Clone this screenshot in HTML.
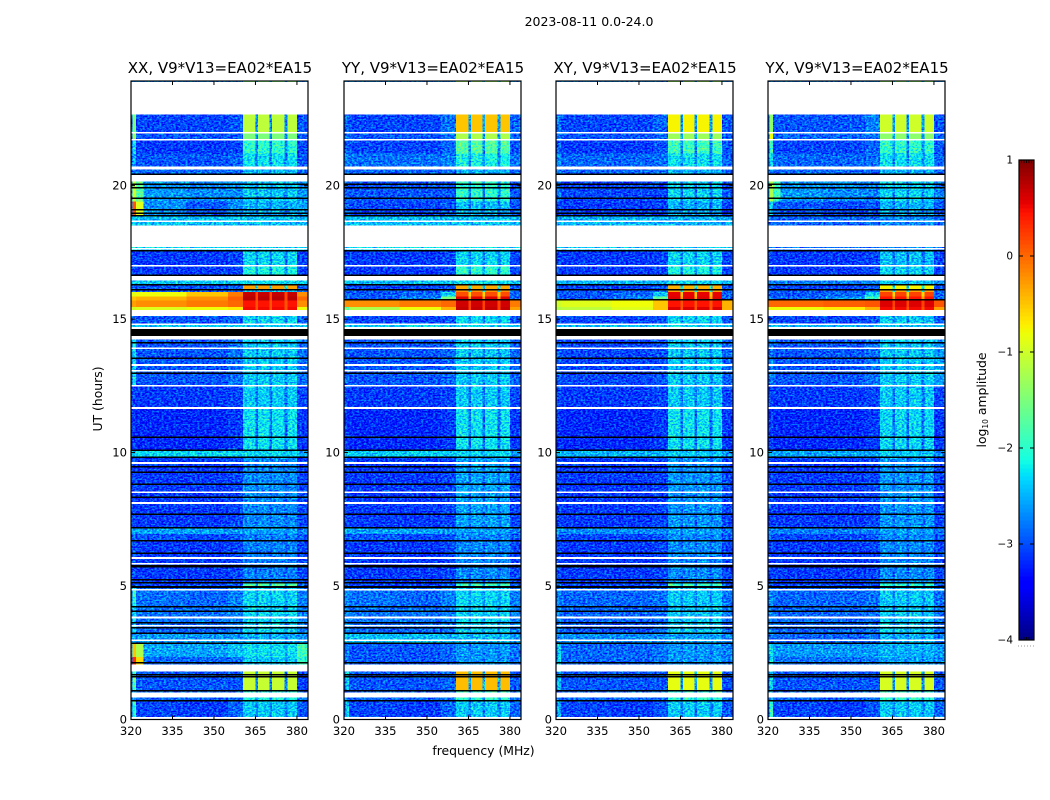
<!DOCTYPE html>
<html><head><meta charset="utf-8"><title>Dynamic spectrum</title>
<style>
html,body{margin:0;padding:0;background:#fff;width:1050px;height:800px;overflow:hidden}
svg{display:block}
text{font-family:"DejaVu Sans","Liberation Sans",sans-serif;fill:#000}
</style></head>
<body>
<svg id="fig" xmlns="http://www.w3.org/2000/svg" width="1050" height="800" viewBox="0 0 1050 800">
<defs>
<filter id="speckle" filterUnits="userSpaceOnUse" x="0" y="0" width="1050" height="800" color-interpolation-filters="sRGB">
<feTurbulence type="fractalNoise" baseFrequency="0.42 0.62" numOctaves="2" seed="4" result="n"/>
<feColorMatrix in="n" type="matrix" values="2 0 0 0 -0.5  2 0 0 0 -0.5  2 0 0 0 -0.5  0 0 0 0 1" result="g"/>
<feComposite in="SourceGraphic" in2="g" operator="arithmetic" k1="0" k2="1" k3="0.2" k4="-0.1" result="m"/>
<feComposite in="m" in2="SourceGraphic" operator="in" result="c"/>
<feComponentTransfer in="c">
<feFuncR id="tableR" type="table" tableValues="0 1"/>
<feFuncG id="tableG" type="table" tableValues="0 1"/>
<feFuncB id="tableB" type="table" tableValues="0 1"/>
</feComponentTransfer>
</filter>
</defs>
<text x="589" y="26" font-size="12.5" text-anchor="middle">2023-08-11 0.0-24.0</text>
<text x="0" y="0" font-size="12.4" text-anchor="middle" transform="translate(102,399) rotate(-90)">UT (hours)</text>
<text x="483.5" y="755" font-size="12.4" text-anchor="middle">frequency (MHz)</text>
<text x="0" y="0" font-size="12.4" text-anchor="middle" transform="translate(986,400) rotate(-90)">log<tspan font-size="7.5" dy="2">10</tspan><tspan dy="-2"> amplitude</tspan></text>
<g id="panels"></g>
<g id="cbar"></g>
</svg>
<script>
// axis tick labels
const xTickValues = [320, 335, 350, 365, 380];
const yTickValues = [0, 5, 10, 15, 20];
const colorbarTicks = [1, 0, -1, -2, -3, -4];
const panelTitles = ["XX, V9*V13=EA02*EA15", "YY, V9*V13=EA02*EA15", "XY, V9*V13=EA02*EA15", "YX, V9*V13=EA02*EA15"];

// frequency zones (MHz): pad, edge, near, bgA, bgB, mid, band1, gap, band2, gap, band3, gap, band4, right
const zoneEdges = [320, 320.6, 321.8, 324.5, 340, 355, 360.5, 365, 366, 370, 371, 375.5, 376.5, 380, 384];
const zoneKinds = [1, 0, 7, 1, 2, 3, 4, 5, 4, 5, 4, 5, 4, 6];

// UT rows (hours)
const timeRows = [[0.09,0.71],[0.71,1.09],[1.09,1.80],[2.06,2.35],[2.35,2.85],[2.85,3.23],[3.23,3.62],[3.62,4.25],[4.25,5.0],[5.0,5.12],[5.12,6.72],[6.72,6.94],[6.94,7.17],[7.17,9.81],[9.81,10.05],[10.05,11.67],[11.67,12.5],[12.5,14.37],[14.62,14.84],[14.84,15.12],[15.35,15.46],[15.46,15.70],[15.70,15.85],[15.85,16.02],[16.02,16.12],[16.12,16.29],[16.29,16.44],[16.63,17.0],[17.0,17.54],[17.54,17.71],[18.5,18.87],[18.87,19.4],[19.4,20.15],[20.39,20.6],[20.72,21.2],[21.2,21.72],[21.72,22.0],[22.0,22.66],[23.88,23.92]];

// log10 amplitude per row: edge, bgA, bgB, mid, band, gap, right, optional near-edge zone
const xxLevels = [
[-1.8,-3.2,-3.3,-3.0,-2.2,-2.8,-3.1],[-2.6,-3.0,-3.0,-2.9,-1.9,-2.7,-2.9],[-1.6,-3.1,-3.1,-3.1,-1.05,-2.8,-3.2],[0.3,-3.0,-3.0,-2.9,-2.2,-2.6,-1.8,-0.6],[-0.5,-2.5,-2.5,-2.3,-2.0,-2.4,-1.7,-1.2],
[-2.6,-2.6,-2.6,-2.6,-2.4,-2.7,-2.7],[-2.0,-3.0,-3.0,-2.8,-2.1,-2.7,-2.8],[-2.0,-2.9,-2.9,-2.8,-2.1,-2.6,-2.8],[-1.8,-2.9,-3.0,-2.8,-2.1,-2.6,-2.8],
[-3.0,-3.2,-3.2,-3.1,-1.6,-2.7,-3.0],[-3.1,-3.3,-3.3,-3.2,-2.8,-3.0,-3.2],[-3.0,-3.1,-3.2,-3.1,-2.8,-3.0,-3.1],[-2.5,-2.5,-2.5,-2.6,-2.5,-2.7,-2.8],
[-3.2,-3.3,-3.3,-3.2,-2.7,-2.95,-3.2],[-2.1,-2.1,-2.1,-2.1,-2.1,-2.2,-2.5],[-3.3,-3.4,-3.4,-3.3,-2.0,-2.9,-3.3],[-3.2,-3.3,-3.3,-3.2,-2.2,-2.9,-3.2],
[-2.0,-3.1,-3.1,-2.9,-2.2,-2.7,-2.9],[-2.2,-2.2,-2.2,-2.2,-2.2,-2.2,-2.2],[-3.0,-3.1,-3.1,-3.0,-2.1,-2.7,-3.0],[-1.0,-0.9,-0.8,-0.7,0.5,0.1,-0.8],
[-0.3,-0.2,-0.1,0.0,0.45,0.1,-0.2],[-0.5,-0.4,-0.2,0.05,0.75,0.2,0.0],[-0.9,-0.8,-0.5,-0.1,0.7,0.2,-0.2],[-3.0,-3.1,-3.1,-3.0,-2.2,-2.7,-3.0],[-3.0,-3.1,-3.1,-3.0,-0.3,-2.0,-3.0],
[-2.2,-2.2,-2.2,-2.2,-2.0,-2.2,-2.2],[-3.2,-3.3,-3.3,-3.2,-1.9,-2.7,-3.2],[-3.2,-3.3,-3.3,-3.2,-2.1,-2.8,-3.2],[-2.1,-2.1,-2.1,-2.1,-2.1,-2.1,-2.1],
[-2.3,-2.3,-2.3,-2.3,-2.3,-2.3,-2.4],[0.1,-2.7,-3.1,-2.7,-2.4,-2.8,-2.5,-0.9],[-1.0,-2.6,-2.7,-2.7,-2.2,-2.7,-2.6,-1.6],[-2.8,-3.0,-3.0,-3.0,-2.3,-2.8,-3.0],
[-2.4,-3.1,-3.1,-3.0,-2.0,-2.8,-3.1],[-2.0,-3.3,-3.3,-3.2,-1.8,-2.8,-3.2],[-1.3,-3.1,-3.1,-3.1,-1.5,-2.7,-3.1],[-1.5,-3.2,-3.2,-3.1,-1.1,-2.7,-3.1],[-2.7,-2.7,-2.7,-2.7,-1.5,-2.5,-2.7]];
const yyLevels = [
[-2.2,-3.2,-3.3,-3.0,-2.2,-2.8,-3.0],[-2.8,-3.0,-3.0,-2.9,-1.8,-2.7,-2.9],[-2.2,-3.1,-3.1,-3.0,-0.45,-2.5,-3.1],[-2.8,-3.1,-3.1,-3.0,-2.6,-2.9,-2.9],[-2.8,-3.1,-3.1,-3.0,-2.6,-2.9,-2.9],
[-2.3,-2.3,-2.3,-2.4,-2.3,-2.6,-2.6],[-2.7,-3.0,-3.0,-2.9,-2.1,-2.7,-2.8],[-2.7,-2.9,-2.9,-2.8,-2.1,-2.6,-2.8],[-2.7,-2.9,-3.0,-2.8,-2.1,-2.6,-2.8],
[-3.0,-3.2,-3.2,-3.1,-1.7,-2.7,-3.0],[-3.2,-3.3,-3.3,-3.2,-2.7,-3.0,-3.2],[-3.0,-3.1,-3.2,-3.1,-2.7,-3.0,-3.1],[-2.5,-2.5,-2.5,-2.6,-2.5,-2.7,-2.8],
[-3.2,-3.3,-3.3,-3.2,-2.5,-2.9,-3.2],[-2.2,-2.2,-2.2,-2.2,-2.1,-2.3,-2.5],[-3.3,-3.4,-3.4,-3.3,-2.0,-2.9,-3.3],[-3.2,-3.3,-3.3,-3.2,-2.2,-2.9,-3.2],
[-3.0,-3.1,-3.1,-3.0,-2.2,-2.7,-3.0],[-2.2,-2.2,-2.2,-2.2,-2.1,-2.2,-2.2],[-3.1,-3.2,-3.2,-3.1,-2.1,-2.7,-3.1],[-1.6,-1.2,-0.8,-0.4,0.7,0.2,-0.3],
[-0.2,-0.2,-0.1,0.0,0.65,0.2,-0.1],[-3.0,-3.1,-2.8,-1.5,0.6,-0.3,-3.0],[-3.0,-3.1,-3.0,-2.2,0.15,-0.6,-3.0],[-3.0,-3.1,-3.1,-3.0,-0.2,-2.0,-3.0],[-3.1,-3.2,-3.2,-3.1,-0.35,-2.0,-3.1],
[-2.3,-2.3,-2.3,-2.3,-2.0,-2.3,-2.3],[-3.2,-3.3,-3.3,-3.2,-1.8,-2.7,-3.2],[-3.2,-3.3,-3.3,-3.2,-2.1,-2.8,-3.2],[-2.1,-2.1,-2.1,-2.1,-2.0,-2.1,-2.1],
[-2.3,-2.3,-2.3,-2.3,-2.3,-2.3,-2.4],[-3.0,-3.2,-3.2,-3.1,-2.3,-2.9,-3.1],[-3.0,-3.1,-3.1,-3.1,-1.8,-2.8,-3.1],[-2.9,-3.0,-3.0,-3.0,-2.4,-2.8,-3.0],
[-2.7,-2.9,-2.9,-2.8,-1.9,-2.7,-2.9],[-3.0,-3.2,-3.2,-3.0,-1.6,-2.7,-3.1],[-2.9,-3.1,-3.1,-2.9,-1.2,-2.6,-3.0],[-2.9,-3.2,-3.2,-2.9,-0.5,-2.6,-3.0],[-2.7,-2.7,-2.7,-2.7,-1.3,-2.5,-2.7]];
const xyLevels = [
[-2.4,-3.2,-3.3,-3.1,-2.2,-2.8,-3.1],[-2.9,-3.0,-3.0,-2.9,-1.8,-2.7,-2.9],[-2.3,-3.1,-3.1,-3.1,-0.85,-2.6,-3.1],[-2.1,-3.0,-3.0,-2.9,-2.6,-2.9,-2.8],[-2.1,-3.0,-3.0,-2.9,-2.6,-2.9,-2.8],
[-2.7,-2.7,-2.7,-2.7,-2.5,-2.7,-2.7],[-2.7,-3.1,-3.1,-2.9,-2.1,-2.7,-2.9],[-2.7,-3.0,-3.0,-2.9,-2.2,-2.7,-2.9],[-2.7,-3.0,-3.0,-2.9,-2.2,-2.7,-2.9],
[-3.0,-3.2,-3.2,-3.1,-1.7,-2.7,-3.0],[-3.2,-3.3,-3.3,-3.2,-2.7,-3.0,-3.2],[-3.0,-3.2,-3.2,-3.1,-2.7,-3.0,-3.1],[-2.7,-2.7,-2.7,-2.7,-2.5,-2.8,-2.9],
[-3.2,-3.3,-3.3,-3.2,-2.6,-2.95,-3.2],[-2.4,-2.4,-2.4,-2.4,-2.2,-2.4,-2.6],[-3.3,-3.4,-3.4,-3.3,-2.0,-2.9,-3.3],[-3.2,-3.3,-3.3,-3.2,-2.2,-2.9,-3.2],
[-3.0,-3.2,-3.2,-3.1,-2.2,-2.8,-3.0],[-2.3,-2.3,-2.3,-2.3,-2.2,-2.3,-2.3],[-3.1,-3.2,-3.2,-3.1,-2.1,-2.7,-3.1],[-1.2,-1.1,-0.9,-0.5,0.6,0.1,-0.4],
[-1.0,-0.9,-0.8,-0.5,0.45,0.1,-0.4],[-3.0,-3.1,-2.8,-1.6,0.6,-0.3,-3.0],[-3.0,-3.1,-3.0,-2.2,0.55,-0.5,-3.0],[-3.0,-3.1,-3.1,-3.0,-0.3,-2.0,-3.0],[-3.1,-3.2,-3.2,-3.1,-0.4,-2.0,-3.1],
[-2.4,-2.4,-2.4,-2.4,-2.1,-2.4,-2.4],[-3.2,-3.3,-3.3,-3.2,-1.9,-2.7,-3.2],[-3.2,-3.3,-3.3,-3.2,-2.1,-2.8,-3.2],[-2.3,-2.3,-2.3,-2.3,-2.2,-2.3,-2.3],
[-2.4,-2.4,-2.4,-2.4,-2.4,-2.4,-2.5],[-3.1,-3.3,-3.3,-3.2,-2.4,-3.0,-3.2],[-2.8,-3.2,-3.2,-3.2,-2.1,-2.9,-3.1],[-2.9,-3.0,-3.0,-3.0,-2.4,-2.8,-3.0],
[-2.7,-3.0,-3.0,-2.9,-2.0,-2.7,-3.0],[-3.0,-3.3,-3.3,-3.1,-1.7,-2.8,-3.1],[-2.9,-3.1,-3.1,-3.0,-1.3,-2.6,-3.0],[-2.8,-3.2,-3.2,-3.0,-0.75,-2.6,-3.1],[-2.7,-2.7,-2.7,-2.7,-1.3,-2.5,-2.7]];
const yxLevels = [
[-1.8,-3.2,-3.3,-3.1,-2.2,-2.8,-3.0],[-2.7,-3.0,-3.0,-2.9,-1.8,-2.7,-2.9],[-2.0,-3.1,-3.1,-3.1,-0.95,-2.7,-3.1],[-2.0,-2.9,-2.9,-2.8,-2.5,-2.8,-2.7],[-2.0,-2.6,-2.6,-2.6,-2.4,-2.6,-2.6],
[-2.9,-3.0,-3.0,-2.9,-2.4,-2.8,-2.9],[-2.6,-3.0,-3.0,-2.9,-2.1,-2.7,-2.9],[-2.7,-3.0,-3.0,-2.9,-2.2,-2.7,-2.9],[-2.7,-3.0,-3.0,-2.9,-2.2,-2.7,-2.9],
[-3.0,-3.2,-3.2,-3.1,-1.8,-2.7,-3.0],[-3.2,-3.3,-3.3,-3.2,-2.7,-3.0,-3.2],[-3.0,-3.2,-3.2,-3.1,-2.7,-3.0,-3.1],[-2.8,-2.8,-2.8,-2.8,-2.5,-2.8,-2.9],
[-3.2,-3.3,-3.3,-3.2,-2.6,-2.95,-3.2],[-2.5,-2.5,-2.5,-2.5,-2.2,-2.4,-2.7],[-3.3,-3.4,-3.4,-3.3,-2.1,-2.9,-3.3],[-3.2,-3.3,-3.3,-3.2,-2.2,-2.9,-3.2],
[-2.8,-3.1,-3.1,-2.9,-2.2,-2.7,-2.6],[-2.4,-2.4,-2.4,-2.4,-2.3,-2.4,-2.4],[-3.1,-3.2,-3.2,-3.1,-2.2,-2.7,-3.1],[-0.8,-0.8,-0.7,-0.4,0.5,0.1,-0.3],
[0.0,0.0,0.05,0.1,0.6,0.2,0.1],[-3.0,-3.0,-2.6,-1.7,0.45,-0.3,-3.0],[-3.0,-3.1,-3.0,-2.2,0.2,-0.6,-3.0],[-3.0,-3.1,-3.1,-3.0,-0.3,-2.0,-3.0],[-3.1,-3.2,-3.2,-3.1,-0.75,-2.0,-3.1],
[-2.8,-2.8,-2.8,-2.8,-2.2,-2.6,-2.8],[-3.2,-3.3,-3.3,-3.2,-2.1,-2.8,-3.2],[-3.2,-3.3,-3.3,-3.2,-2.3,-2.9,-3.2],[-2.9,-2.9,-2.9,-2.9,-2.6,-2.8,-2.9],
[-3.0,-3.0,-3.0,-3.0,-2.7,-2.9,-3.0],[-2.0,-3.1,-3.2,-3.1,-2.4,-2.9,-3.1],[-1.2,-2.6,-2.7,-2.8,-2.1,-2.7,-2.8,-1.7],[-2.8,-3.0,-3.0,-3.0,-2.4,-2.8,-3.0],
[-2.0,-3.0,-3.0,-2.9,-2.0,-2.7,-3.0],[-1.7,-3.2,-3.2,-3.0,-1.8,-2.7,-3.1],[-0.8,-3.0,-3.0,-2.9,-1.4,-2.6,-3.0],[-1.4,-3.1,-3.1,-2.8,-1.0,-2.6,-3.1],[-2.7,-2.7,-2.7,-2.7,-1.4,-2.5,-2.7]];
const panelLevels = [xxLevels, yyLevels, xyLevels, yxLevels];

// flagged time ranges (hours)
const whiteFlags = [[0,0.09],[0.83,1.01],[1.80,2.06],[2.96,3.0],[3.51,3.54],[3.81,3.85],[4.84,4.89],[5.84,5.87],[6.05,6.08],[8.11,8.14],[8.52,8.55],[9.60,9.64],[11.66,11.70],[12.49,12.53],[13.05,13.09],[13.27,13.31],[13.9,13.94],[14.24,14.37],[14.62,14.71],[14.80,14.84],[15.12,15.35],[16.44,16.63],[17.0,17.03],[17.64,17.67],[17.71,18.5],[18.65,18.69],[20.15,20.39],[20.6,20.72],[21.72,21.75],[21.98,22.01],[22.66,23.88]];
const blackFlags = [[0.7,0.73],[1.06,1.10],[1.6,1.63],[1.67,1.70],[2.10,2.15],[2.85,2.88],[3.22,3.25],[3.43,3.47],[3.62,3.66],[4.05,4.08],[4.22,4.25],[4.93,5.0],[5.12,5.16],[5.24,5.27],[5.70,5.78],[6.22,6.25],[6.70,6.73],[7.17,7.22],[7.67,7.71],[8.31,8.36],[8.80,8.84],[9.24,9.30],[9.44,9.49],[9.81,9.85],[10.05,10.12],[10.57,10.60],[12.97,13.0],[13.54,13.57],[14.10,14.14],[14.37,14.62],[16.08,16.12],[16.29,16.32],[16.64,16.68],[17.54,17.58],[18.85,18.9],[18.96,19.0],[19.08,19.12],[19.52,19.56],[19.9,19.94],[20.05,20.08],[20.39,20.45]];
const panelBlackFlags = [[], [[15.72,15.76]], [[15.72,15.76]], [[15.72,15.76]]];

const SVGNS = "http://www.w3.org/2000/svg";
const panelLeft = [131, 344, 556, 768];
const plotW = 177, plotTop = 81, plotBottom = 719.5;
const xMin = 320, xMax = 384, yMax = 23.92;

function xScale(panel, f) { return panelLeft[panel] + (f - xMin) / (xMax - xMin) * plotW; }
function yScale(h) { return plotBottom - h / yMax * (plotBottom - plotTop); }

function lerp(t, pts) {
  for (let i = 1; i < pts.length; i++) {
    if (t <= pts[i][0]) {
      const a = pts[i - 1], b = pts[i];
      return a[1] + (b[1] - a[1]) * (t - a[0]) / (b[0] - a[0]);
    }
  }
  return pts[pts.length - 1][1];
}
function normLevel(level) { return Math.max(0, Math.min(1, (level + 4) / 5)); }
function jetRGB(t) {
  return [
    lerp(t, [[0, 0], [0.35, 0], [0.66, 1], [0.89, 1], [1, 0.5]]),
    lerp(t, [[0, 0], [0.125, 0], [0.375, 1], [0.64, 1], [0.91, 0], [1, 0]]),
    lerp(t, [[0, 0.5], [0.11, 1], [0.34, 1], [0.65, 0], [1, 0]])
  ];
}
function jet(level) {
  const c = jetRGB(normLevel(level));
  return "rgb(" + Math.round(c[0] * 255) + "," + Math.round(c[1] * 255) + "," + Math.round(c[2] * 255) + ")";
}
function grayFor(level) {
  const v = Math.round(normLevel(level) * 255);
  return "rgb(" + v + "," + v + "," + v + ")";
}
// speckled cells: fill is the normalised level, the filter adds grain and then applies the jet table
(function () {
  const samples = [[], [], []];
  for (let i = 0; i <= 64; i++) {
    const c = jetRGB(i / 64);
    samples[0].push(c[0].toFixed(3));
    samples[1].push(c[1].toFixed(3));
    samples[2].push(c[2].toFixed(3));
  }
  document.getElementById("tableR").setAttribute("tableValues", samples[0].join(" "));
  document.getElementById("tableG").setAttribute("tableValues", samples[1].join(" "));
  document.getElementById("tableB").setAttribute("tableValues", samples[2].join(" "));
})();
// the grain lifts dark cells and flattens bright ones; this keeps mean colour on the reading
function grainLevel(v) {
  return lerp(v, [[-4, -3.8], [-3.3, -3.1], [-2.8, -2.75], [-2.0, -2.25], [-1.5, -1.6]]);
}
function mk(tag, parent, attrs) {
  const el = document.createElementNS(SVGNS, tag);
  for (const k in attrs) el.setAttribute(k, attrs[k]);
  parent.appendChild(el);
  return el;
}

const panelsRoot = document.getElementById("panels");
panelLevels.forEach(function (levels, p) {
  const g = mk("g", panelsRoot, {});
  
  
  const soft = mk("g", g, { filter: "url(#speckle)", "shape-rendering": "crispEdges" });
  
  
  const hot = mk("g", g, { "shape-rendering": "crispEdges" });
  
  
  timeRows.forEach(function (row, r) {
    for (let z = 0; z < zoneKinds.length; z++) {
      const kind = zoneKinds[z];
      let v = levels[r][kind];
      if (kind === 7 && v === undefined) v = levels[r][1];
      const x0 = xScale(p, zoneEdges[z]), x1 = xScale(p, zoneEdges[z + 1]);
      const y0 = yScale(row[1]), y1 = yScale(row[0]);
      const isSoft = v < -1.5;
      const cell = mk("rect", isSoft ? soft : hot, {
        x: x0, y: y0, width: x1 - x0, height: y1 - y0,
        fill: isSoft ? grayFor(grainLevel(v)) : jet(v)
      });
      
      
    }
  });
  const flags = mk("g", g, { "shape-rendering": "crispEdges" });
  
  
  whiteFlags.forEach(function (f) {
    const w = mk("rect", flags, { x: panelLeft[p], y: yScale(f[1]), width: plotW, height: Math.max(1.6, yScale(f[0]) - yScale(f[1])), fill: "#fff" });
    
    
  });
  blackFlags.concat(panelBlackFlags[p]).forEach(function (f) {
    const b = mk("rect", flags, { x: panelLeft[p], y: yScale(f[1]), width: plotW, height: Math.max(1.5, yScale(f[0]) - yScale(f[1])), fill: "#000" });
    
    
  });
  const frame = mk("rect", g, { x: panelLeft[p], y: plotTop, width: plotW, height: plotBottom - plotTop, fill: "none", stroke: "#000", "stroke-width": 1.2 });
  
  
  const title = mk("text", g, { x: panelLeft[p] + plotW / 2 + 0.5, y: 73, "font-size": 15, "text-anchor": "middle" });
  title.textContent = panelTitles[p];
  
  
  xTickValues.forEach(function (t) {
    const x = xScale(p, t);
    const tb = mk("line", g, { x1: x, x2: x, y1: plotBottom, y2: plotBottom - 4, stroke: "#000" });
    
    
    const tt = mk("line", g, { x1: x, x2: x, y1: plotTop, y2: plotTop + 4, stroke: "#000" });
    
    
    const lab = mk("text", g, { x: x, y: 735, "font-size": 11.6, "text-anchor": "middle" });
    lab.textContent = t;
    
    
  });
  yTickValues.forEach(function (t) {
    const y = yScale(t);
    const tl = mk("line", g, { x1: panelLeft[p], x2: panelLeft[p] + 4, y1: y, y2: y, stroke: "#000" });
    
    
    const tr = mk("line", g, { x1: panelLeft[p] + plotW, x2: panelLeft[p] + plotW - 4, y1: y, y2: y, stroke: "#000" });
    
    
    const lab = mk("text", g, { x: panelLeft[p] - 4, y: y + 4, "font-size": 11.6, "text-anchor": "end" });
    lab.textContent = t;
    
    
  });
});

// colorbar
const cbarRoot = document.getElementById("cbar");
const cbX = 1019, cbW = 15, cbTop = 160, cbBottom = 640;
function cbY(v) { return cbBottom - (v + 4) / 5 * (cbBottom - cbTop); }
for (let i = 0; i < 120; i++) {
  const lo = -4 + i / 24, hi = -4 + (i + 1) / 24;
  const s = mk("rect", cbarRoot, { x: cbX, y: cbY(hi), width: cbW, height: cbY(lo) - cbY(hi) + 0.5, fill: jet((lo + hi) / 2), "shape-rendering": "crispEdges" });
  
  
}
for (let i = 0; i < 5; i++) {
  const mx = cbX + 2.5 + i * 2.5;
  const topMark = mk("line", cbarRoot, { x1: mx, x2: mx, y1: cbTop, y2: cbTop + 3, stroke: "#000", "stroke-width": 0.8 });
  
  
  const bottomMark = mk("line", cbarRoot, { x1: mx, x2: mx, y1: cbBottom, y2: cbBottom - 3, stroke: "#000", "stroke-width": 0.8 });
  
  
}
const cbFrame = mk("rect", cbarRoot, { x: cbX, y: cbTop, width: cbW, height: cbBottom - cbTop, fill: "none", stroke: "#000", "stroke-width": 1.2 });


colorbarTicks.forEach(function (t) {
  const y = cbY(t);
  const l = mk("line", cbarRoot, { x1: cbX, x2: cbX + 4, y1: y, y2: y, stroke: "#000" });
  
  
  const r = mk("line", cbarRoot, { x1: cbX + cbW, x2: cbX + cbW - 4, y1: y, y2: y, stroke: "#000" });
  
  
  const lab = mk("text", cbarRoot, { x: 1013, y: y + 3.5, "font-size": 10.5, "text-anchor": "end" });
  lab.textContent = String(t).replace("-", "\u2212");
  
  
});
const dots = mk("line", cbarRoot, { x1: 1018, x2: 1035, y1: 646, y2: 646, stroke: "#999", "stroke-dasharray": "1 2" });


</script>
</body></html>
